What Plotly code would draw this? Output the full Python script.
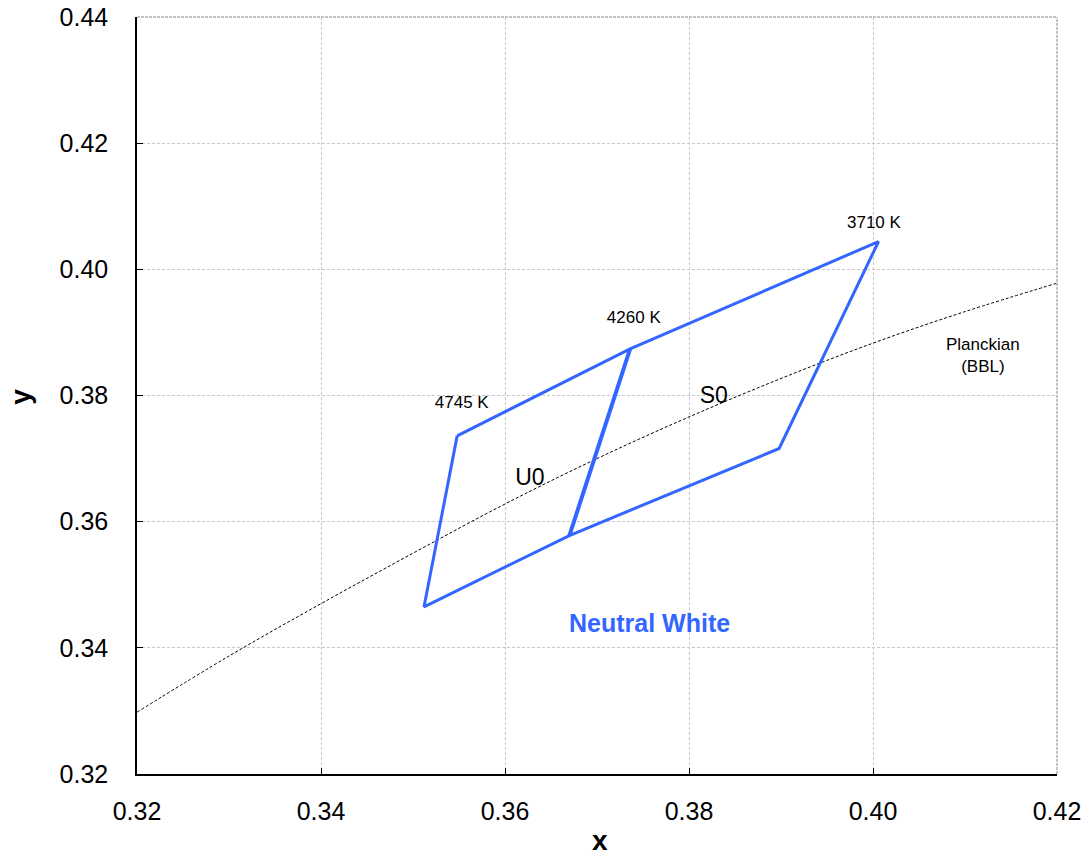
import plotly.graph_objects as go

# Planckian locus (black body line)
bbl_x = [0.32, 0.33, 0.34, 0.35, 0.36, 0.37, 0.38, 0.39, 0.40, 0.41, 0.42]
bbl_y = [0.3298, 0.3387, 0.3470, 0.3550, 0.3628, 0.3700, 0.3766, 0.3827, 0.3883, 0.3933, 0.3978]

# Neutral White quadrangles (corner points)
outline_x = [0.3548, 0.3736, 0.4006, 0.3898, 0.3670, 0.3512, 0.3548]
outline_y = [0.3736, 0.3874, 0.4044, 0.3716, 0.3578, 0.3465, 0.3736]
divider_x = [0.3736, 0.3670]
divider_y = [0.3874, 0.3578]

# Labels
cct_labels = ["4745 K", "4260 K", "3710 K"]
cct_x = [0.3553, 0.3740, 0.4001]
cct_y = [0.3787, 0.3921, 0.4073]
bin_labels = ["U0", "S0"]
bin_x = [0.3627, 0.3827]
bin_y = [0.3668, 0.3798]

x_ticks = [0.32, 0.34, 0.36, 0.38, 0.40, 0.42]
y_ticks = [0.32, 0.34, 0.36, 0.38, 0.40, 0.42, 0.44]

BLUE = "#3366ff"
FONT = "Liberation Sans, Arial, sans-serif"

fig = go.Figure()
fig.add_trace(go.Scatter(x=bbl_x, y=bbl_y, mode="lines",
                         line=dict(color="black", width=1, dash="3px,2px", shape="spline"),
                         hoverinfo="skip", showlegend=False))
fig.add_trace(go.Scatter(x=outline_x, y=outline_y, mode="lines", line=dict(color=BLUE, width=3),
                         showlegend=False))
fig.add_trace(go.Scatter(x=divider_x, y=divider_y, mode="lines", line=dict(color=BLUE, width=4),
                         showlegend=False))
fig.add_trace(go.Scatter(x=cct_x, y=cct_y, mode="text", text=cct_labels,
                         textfont=dict(family=FONT, size=17, color="black"), showlegend=False))
fig.add_trace(go.Scatter(x=bin_x, y=bin_y, mode="text", text=bin_labels,
                         textfont=dict(family=FONT, size=23, color="black"), showlegend=False))

fig.add_annotation(x=0.4120, y=0.3863, text="Planckian<br>(BBL)", showarrow=False,
                   font=dict(family=FONT, size=17, color="black"))
fig.add_annotation(x=0.3757, y=0.3439, text="<b>Neutral White</b>", showarrow=False,
                   font=dict(family=FONT, size=25, color=BLUE))

# axis titles
fig.add_annotation(xref="paper", yref="paper", x=0.503, y=-0.0885, text="<b>x</b>", showarrow=False,
                   font=dict(family=FONT, size=28, color="black"), xanchor="center", yanchor="middle")
fig.add_annotation(xref="paper", yref="paper", x=-0.1275, y=0.498, text="<b>y</b>", showarrow=False,
                   textangle=-90, font=dict(family=FONT, size=28, color="black"),
                   xanchor="center", yanchor="middle")

# top and right frame (gray, like gridlines)
fig.add_shape(type="line", xref="paper", yref="paper", x0=0, x1=1, y0=1, y1=1,
              line=dict(color="#b0b0b0", width=1.5, dash="3px,1px"))
fig.add_shape(type="line", xref="paper", yref="paper", x0=1, x1=1, y0=0, y1=1,
              line=dict(color="#b0b0b0", width=1.5, dash="3px,1px"))

grid = dict(showgrid=True, gridcolor="#c8c8c8", gridwidth=1, griddash="3px,2px")
fig.update_xaxes(range=[0.32, 0.42], tickvals=x_ticks, ticktext=["%.2f" % v for v in x_ticks],
                 showline=True, linecolor="black", linewidth=1.5, ticks="inside", ticklen=6, tickcolor="black",
                 tickfont=dict(family=FONT, size=25, color="black"), zeroline=False, automargin=False,
                 ticklabeloverflow="allow", ticklabelstandoff=14, **grid)
fig.update_yaxes(range=[0.32, 0.44], tickvals=y_ticks, ticktext=["%.2f" % v for v in y_ticks],
                 showline=True, linecolor="black", linewidth=1.5, ticks="inside", ticklen=6, tickcolor="black",
                 tickfont=dict(family=FONT, size=25, color="black"), zeroline=False, automargin=False,
                 ticklabeloverflow="allow", ticklabelstandoff=22, **grid)
fig.update_layout(width=1086, height=861, margin=dict(l=137, r=29, t=17, b=87),
                  plot_bgcolor="white", paper_bgcolor="white", font=dict(family=FONT))
fig.write_html("out.html", config={"displayModeBar": False},
               post_script="document.body.style.margin='0px';document.body.style.overflow='hidden';")
